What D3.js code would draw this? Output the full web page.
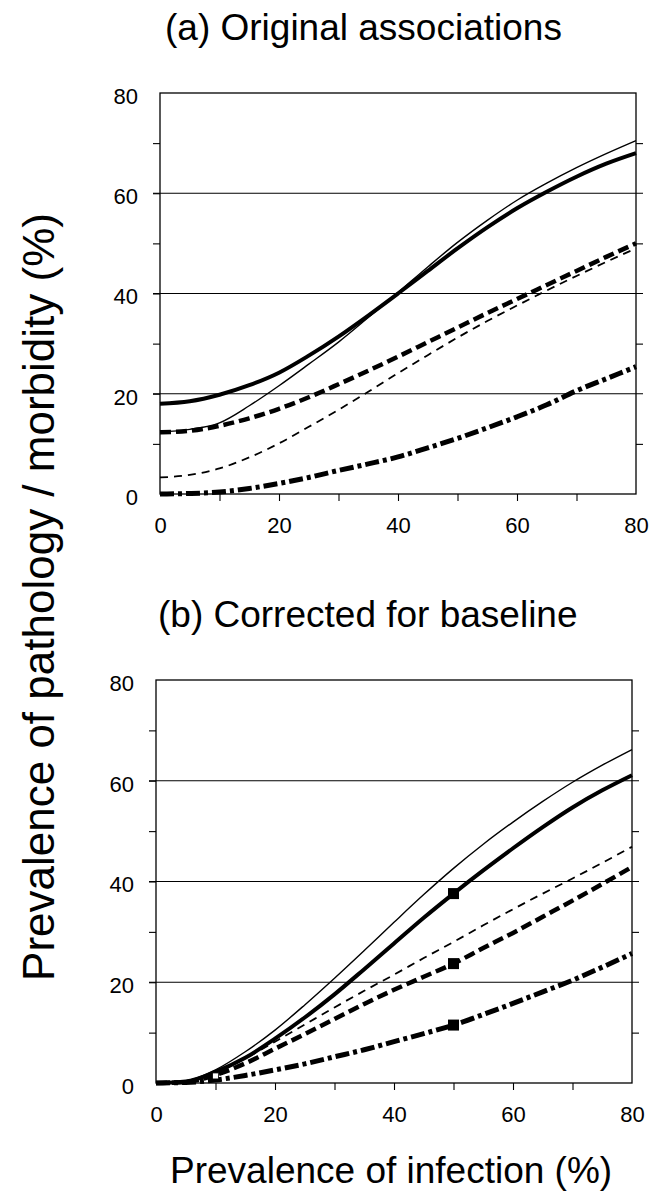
<!DOCTYPE html>
<html>
<head>
<meta charset="utf-8">
<script src="https://cdn.jsdelivr.net/npm/d3@7"></script>
<style>
  body { margin: 0; background: #fff; }
  svg text { font-family: "Liberation Sans", Arial, sans-serif; fill: #000; }
</style>
</head>
<body>
<div id="chart"></div>
<script>
'use strict';

// prevalence of infection (%)
var infection = [0, 5, 10, 15, 20, 25, 30, 35, 40, 45, 50, 55, 60, 65, 70, 75, 80];

// (a) original associations
var aThickSolid  = [18, 18.5, 19.8, 21.7, 24.2, 27.6, 31.4, 35.6, 40.0, 44.5, 49.0, 53.2, 57.0, 60.3, 63.3, 65.9, 68.0];
var aThinSolid   = [12.4, 12.9, 14.2, 17.6, 21.6, 25.9, 30.3, 35.2, 40.2, 45.3, 50.2, 54.6, 58.6, 62.0, 65.1, 67.9, 70.5];
var aThickDashed = [12.3, 12.6, 13.6, 15.1, 17.0, 19.3, 21.9, 24.6, 27.4, 30.3, 33.2, 36.1, 38.9, 41.7, 44.5, 47.3, 50.0];
var aThinDashed  = [3.3, 3.8, 5.1, 7.3, 10.1, 13.4, 16.8, 20.4, 24.1, 27.7, 31.2, 34.5, 37.6, 40.6, 43.5, 46.3, 49.0];
var aDashDot     = [0, 0.1, 0.4, 1.1, 2.1, 3.3, 4.7, 6.0, 7.4, 9.2, 11.1, 13.2, 15.4, 17.8, 20.6, 23.0, 25.4];

// (b) corrected for baseline
var bThickSolid  = [0, 0.3, 2.2, 5.0, 8.8, 13.0, 17.6, 22.6, 27.7, 32.8, 37.6, 42.2, 46.6, 50.8, 54.7, 58.1, 61.1];
var bThinSolid   = [0, 0.4, 2.6, 6.2, 10.5, 15.5, 20.8, 26.3, 31.9, 37.4, 42.6, 47.4, 51.8, 55.9, 59.7, 63.1, 66.2];
var bThickDashed = [0, 0.2, 1.6, 3.9, 6.8, 9.7, 12.7, 15.7, 18.5, 21.1, 23.7, 26.8, 29.8, 33.0, 36.2, 39.5, 42.9];
var bThinDashed  = [0, 0.3, 2.0, 4.9, 8.2, 11.6, 15.0, 18.3, 21.5, 24.8, 28.0, 31.3, 34.5, 37.6, 40.6, 43.7, 46.9];
var bDashDot     = [0, 0.1, 0.6, 1.5, 2.6, 3.8, 5.2, 6.6, 8.2, 9.8, 11.5, 13.6, 15.8, 18.1, 20.4, 23.0, 25.7];

// marked points in (b)
var bMarkX = [50, 50, 50];
var bMarkY = [37.6, 23.7, 11.5];
var bOpenMarkX = [10];
var bOpenMarkY = [1.4];

var majorTicks = [0, 20, 40, 60, 80];
var minorTicks = [10, 30, 50, 70];
var gridTicks = [20, 40, 60];

var styles = {
  thickSolid:  { w: 4, dash: null },
  thinSolid:   { w: 1.4, dash: null },
  thickDashed: { w: 4.5, dash: '11,5' },
  thinDashed:  { w: 1.8, dash: '8,6' },
  dashDot:     { w: 5, dash: '14,4,4,4' }
};

var svg = d3.select('#chart')
  .append('svg')
  .attr('width', 649)
  .attr('height', 1194);

function drawPanel(box, title, series, marks, openMarks) {
  var x = d3.scaleLinear().domain([0, 80]).range([box.left, box.right]);
  var y = d3.scaleLinear().domain([0, 80]).range([box.bottom, box.top]);

  svg.append('text')
    .attr('x', box.titleX)
    .attr('y', box.titleY)
    .attr('font-size', '37px')
    .text(title);

  // gridlines
  svg.selectAll(null)
    .data(gridTicks)
    .enter()
    .append('line')
    .attr('x1', box.left - 7)
    .attr('x2', box.right + 7)
    .attr('y1', function(d) { return y(d); })
    .attr('y2', function(d) { return y(d); })
    .attr('stroke', '#000')
    .attr('stroke-width', 1.1);

  var left = svg.append('g')
    .attr('transform', 'translate(' + box.left + ',0)')
    .call(d3.axisLeft(y)
      .tickValues(majorTicks.concat(minorTicks))
      .tickSize(7)
      .tickPadding(15)
      .tickFormat(function(d) { return majorTicks.indexOf(d) >= 0 ? d : ''; }));

  var right = svg.append('g')
    .attr('transform', 'translate(' + box.right + ',0)')
    .call(d3.axisRight(y).tickValues(minorTicks).tickSize(7).tickFormat(''));

  var bottom = svg.append('g')
    .attr('transform', 'translate(0,' + box.bottom + ')')
    .call(d3.axisBottom(x)
      .tickValues(majorTicks.concat(minorTicks))
      .tickSize(7)
      .tickPadding(16)
      .tickFormat(function(d) { return majorTicks.indexOf(d) >= 0 ? d : ''; }));

  [left, right, bottom].forEach(function(g) {
    g.select('.domain').remove();
    g.selectAll('line').attr('stroke-width', 1.1);
    g.selectAll('text').attr('font-size', '22px').attr('font-family', '"Liberation Sans", Arial, sans-serif');
  });
  left.selectAll('.tick')
    .filter(function(d) { return d === 0 || d === 80; })
    .select('line').remove();
  bottom.selectAll('.tick')
    .filter(function(d) { return d === 0 || d === 80; })
    .select('line').remove();
  left.selectAll('text').attr('dy', '0.47em');

  // frame
  svg.append('rect')
    .attr('x', box.left)
    .attr('y', box.top)
    .attr('width', box.right - box.left)
    .attr('height', box.bottom - box.top)
    .attr('fill', 'none')
    .attr('stroke', '#000')
    .attr('stroke-width', 1.3);

  var line = d3.line()
    .x(function(d, i) { return x(infection[i]); })
    .y(function(d) { return y(d); })
    .curve(d3.curveMonotoneX);

  series.forEach(function(s) {
    var st = styles[s.style];
    svg.append('path')
      .datum(s.values)
      .attr('d', line)
      .attr('fill', 'none')
      .attr('stroke', '#000')
      .attr('stroke-width', st.w)
      .attr('stroke-dasharray', st.dash);
  });

  if (marks) {
    svg.selectAll(null)
      .data(marks.x)
      .enter()
      .append('rect')
      .attr('x', function(d) { return x(d) - 5.5; })
      .attr('y', function(d, i) { return y(marks.y[i]) - 5.5; })
      .attr('width', 11)
      .attr('height', 11)
      .attr('fill', '#000');
  }
  if (openMarks) {
    svg.selectAll(null)
      .data(openMarks.x)
      .enter()
      .append('rect')
      .attr('x', function(d) { return x(d) - 3; })
      .attr('y', function(d, i) { return y(openMarks.y[i]) - 3; })
      .attr('width', 6)
      .attr('height', 6)
      .attr('fill', '#fff')
      .attr('stroke', '#000')
      .attr('stroke-width', 0.8);
  }
}

drawPanel(
  { left: 160, right: 636, top: 93, bottom: 494, titleX: 165, titleY: 40 },
  '(a) Original associations',
  [
    { values: aThinSolid, style: 'thinSolid' },
    { values: aThinDashed, style: 'thinDashed' },
    { values: aThickDashed, style: 'thickDashed' },
    { values: aDashDot, style: 'dashDot' },
    { values: aThickSolid, style: 'thickSolid' }
  ]
);

drawPanel(
  { left: 156, right: 632, top: 680, bottom: 1083, titleX: 158, titleY: 627 },
  '(b) Corrected for baseline',
  [
    { values: bThinSolid, style: 'thinSolid' },
    { values: bThinDashed, style: 'thinDashed' },
    { values: bThickDashed, style: 'thickDashed' },
    { values: bDashDot, style: 'dashDot' },
    { values: bThickSolid, style: 'thickSolid' }
  ],
  { x: bMarkX, y: bMarkY },
  { x: bOpenMarkX, y: bOpenMarkY }
);

svg.append('text')
  .attr('transform', 'translate(54,597) rotate(-90)')
  .attr('text-anchor', 'middle')
  .attr('font-size', '44px')
  .text('Prevalence of pathology / morbidity (%)');

svg.append('text')
  .attr('x', 170)
  .attr('y', 1183)
  .attr('font-size', '37px')
  .text('Prevalence of infection (%)');
</script>
</body>
</html>
